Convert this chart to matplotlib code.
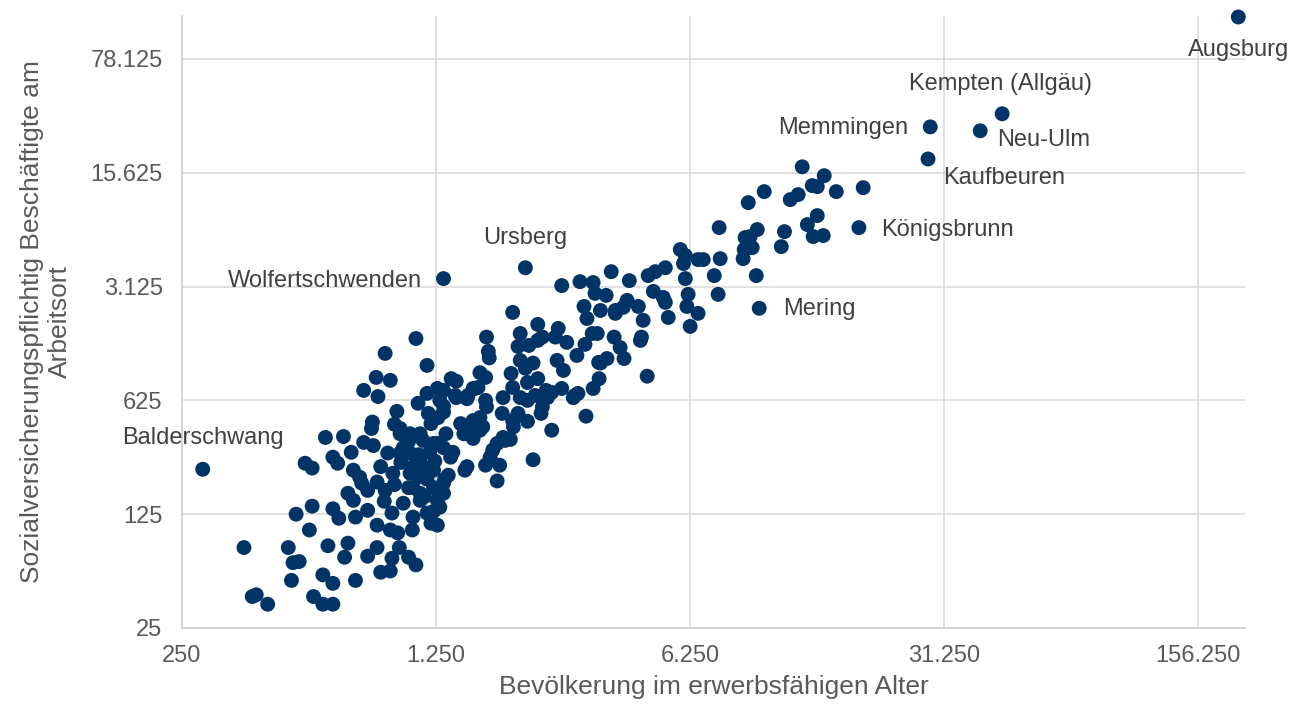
import matplotlib.pyplot as plt
from matplotlib.ticker import FixedLocator, FuncFormatter, NullLocator

plt.rcParams['font.family'] = ['Liberation Sans', 'DejaVu Sans']

# labelled municipalities
names = ['Augsburg', 'Kempten (Allgäu)', 'Neu-Ulm', 'Memmingen', 'Kaufbeuren',
         'Königsbrunn', 'Mering', 'Ursberg', 'Wolfertschwenden', 'Balderschwang']
names_bev = [201300, 45100, 39250, 28600, 28200, 18200, 9680, 2200, 1310, 285]
names_svb = [141500, 36000, 28300, 29900, 19000, 7200, 2300, 4080, 3500, 236]
# label offsets in pixels (dx, dy, ha)
label_pos = [(0, -33, 'center'), (-2, 30, 'center'), (17, -9, 'left'), (-22, -1, 'right'),
             (15, -19, 'left'), (22, -2, 'left'), (24, -1, 'left'), (0, 30, 'center'),
             (-21, -2, 'right'), (0, 31, 'center')]

# all other municipalities: population of working age / employees at workplace
bev = [18700, 15770, 14610, 12710, 13540, 13980, 12390, 11780, 9990, 9030,
       13980, 13130, 13620, 14520, 11360, 11130, 9560, 8850, 9140, 8800,
       9260, 8740, 9500, 7510, 7560, 6790, 7280, 7460, 5870, 6060,
       5990, 6570, 6060, 6170, 6120, 6250, 6570, 5440, 5340, 5270,
       4950, 5010, 5340, 4790, 4760, 4590, 4560, 4500, 4190, 4250,
       3790, 3670, 3380, 3110, 3420, 2770, 3190, 3250, 3540, 3890,
       4090, 3890, 4640, 3860, 4010, 4110, 3690, 3540, 3360, 3510,
       3380, 3230, 3070, 2980, 2600, 2530, 2450, 2430, 2600, 2230,
       3210, 2860, 3470, 3050, 2690, 2800, 3500, 2510, 2770, 3010,
       2710, 2380, 2030, 2660, 2450, 2380, 2130, 2100, 2130, 2250,
       2310, 1720, 1740, 1750, 1650, 1710, 1630, 2010, 2030, 2200,
       2230, 2380, 1910, 2130, 2230, 2340, 2100, 2040, 1900, 2030,
       1720, 1710, 1520, 1600, 1530, 1410, 1310, 1375, 1420, 1260,
       1180, 1115, 1280, 1265, 1310, 1460, 1580, 1650, 1510, 1650,
       1580, 1490, 1680, 1330, 1150, 1060, 1230, 1910, 1840, 1790,
       1760, 1935, 2000, 1710, 1870, 1840, 2310, 1520, 1350, 1310,
       1310, 1080, 1115, 1015, 1370, 1310,
       1100, 905, 1180, 855, 935, 790, 865, 1310, 1420, 1580,
       975, 835, 830, 960, 995, 1130, 1260, 1190, 1210,
       620, 695, 545, 570, 650, 670, 730, 790, 840, 740,
       770, 715, 740, 810, 860, 905, 995, 1060, 1080, 1060,
       950, 920, 880, 995, 1130, 1150, 1230, 1230, 1180, 1130,
       1280, 1260, 1390, 1500, 1320,
       515, 570, 650, 675, 750, 810, 780, 1050, 1130, 1180,
       1260, 1015, 945, 1080, 1230, 1210, 935, 980, 1075, 860,
       560, 490, 370, 505, 525, 500, 390, 400, 430, 575,
       610, 650, 610, 650, 630, 715, 700, 750, 810, 860,
       880, 935, 945, 990, 1050, 1100,
       1000, 1120, 1240, 900, 1160, 1050, 960, 1200]
svb = [12660, 11975, 15000, 17000, 13040, 12850, 11480, 10690, 11975, 10250,
       8530, 7510, 6340, 6430, 6800, 5500, 7000, 6250, 6340, 5280,
       5420, 4640, 3650, 7200, 4640, 4580, 3650, 2800, 5280, 4850,
       4330, 4580, 3500, 2800, 2360, 1780, 2140, 2020, 2500, 2680,
       2920, 3860, 4080, 3650, 880, 1530, 1460, 2360, 2570, 3400,
       3860, 2760, 3310, 3350, 2840, 3170, 2360, 1990, 2230, 2230,
       2330, 2140, 1940, 1530, 1320, 1130, 1130, 1060, 1610, 850,
       740, 500, 690, 650, 700, 650, 570, 520, 410, 465,
       1380, 1420, 1610, 1180, 1100, 955, 1070, 720, 740, 670,
       1730, 1830, 2170, 1530, 1530, 1460, 1610, 1340, 1100, 1360,
       1060, 1530, 1250, 1140, 925, 865, 750, 915, 750, 985,
       805, 850, 650, 650, 625, 670, 520, 430, 520, 470,
       570, 625, 640, 740, 670, 670, 720, 850, 820, 740,
       690, 600, 625, 490, 530, 450, 470, 490, 410, 410,
       365, 390, 430, 390, 355, 390, 340, 370, 340, 310,
       280, 355, 360, 250, 250, 200, 270, 245, 217, 194,
       168, 245, 211, 320, 280, 320,
       1500, 1215, 1025, 865, 830, 720, 660, 575, 650, 740,
       535, 460, 420, 446, 420, 390, 340, 520, 450,
       370, 375, 257, 240, 280, 257, 300, 345, 330, 233,
       211, 168, 152, 175, 197, 175, 390, 297, 182, 223,
       223, 297, 245, 297, 280, 245, 233, 182, 127, 152,
       138, 107, 300, 233, 205,
       125, 140, 135, 118, 120, 132, 194, 182, 168, 205,
       152, 146, 127, 120, 130, 110, 100, 96, 100, 107,
       100, 78, 78, 63, 64, 49, 39, 40, 35, 39,
       35, 35, 53, 47, 80, 83, 68, 49, 69, 78,
       55, 56, 67, 78, 68, 61,
       260, 290, 265, 150, 160, 350, 190, 300]

xticks = [250, 1250, 6250, 31250, 156250]
yticks = [25, 125, 625, 3125, 15625, 78125]

dot = '#003366'
grid = '#d9d9d9'
txt = '#595959'

fig = plt.figure(figsize=(13.05, 7.08), dpi=100)
ax = fig.add_axes([0.1395, 0.113, 0.8145, 0.8644])

ax.scatter(bev + names_bev, svb + names_svb, s=115, color=dot, edgecolors='none',
           zorder=3, clip_on=False)

for n, x, y, (dx, dy, ha) in zip(names, names_bev, names_svb, label_pos):
    ax.annotate(n, (x, y), xytext=(dx, dy), textcoords='offset pixels',
                ha=ha, va='center', fontsize=17, color='#404040', zorder=4)

ax.set_xscale('log')
ax.set_yscale('log')
ax.set_xlim(250, 210000)
ax.set_ylim(25, 143500)

fmt = FuncFormatter(lambda v, p: f'{int(round(v)):,}'.replace(',', '.'))
ax.xaxis.set_major_locator(FixedLocator(xticks))
ax.yaxis.set_major_locator(FixedLocator(yticks))
ax.xaxis.set_minor_locator(NullLocator())
ax.yaxis.set_minor_locator(NullLocator())
ax.xaxis.set_major_formatter(fmt)
ax.yaxis.set_major_formatter(fmt)
ax.tick_params(axis='both', length=0, labelsize=17, labelcolor=txt)
ax.tick_params(axis='x', pad=12)
ax.tick_params(axis='y', pad=14)

ax.grid(True, color=grid, linewidth=1.1, zorder=0)
ax.set_axisbelow(True)
for side in ['top', 'right']:
    ax.spines[side].set_visible(False)
for side in ['left', 'bottom']:
    ax.spines[side].set_color('#cfcfcf')
    ax.spines[side].set_linewidth(1.2)

ax.set_xlabel('Bevölkerung im erwerbsfähigen Alter', fontsize=19, color=txt, labelpad=6)
ax.set_ylabel('Sozialversicherungspflichtig Beschäftigte am\nArbeitsort', fontsize=19,
              color=txt, labelpad=13, linespacing=1.25)

fig.savefig('out.png', dpi=100)
